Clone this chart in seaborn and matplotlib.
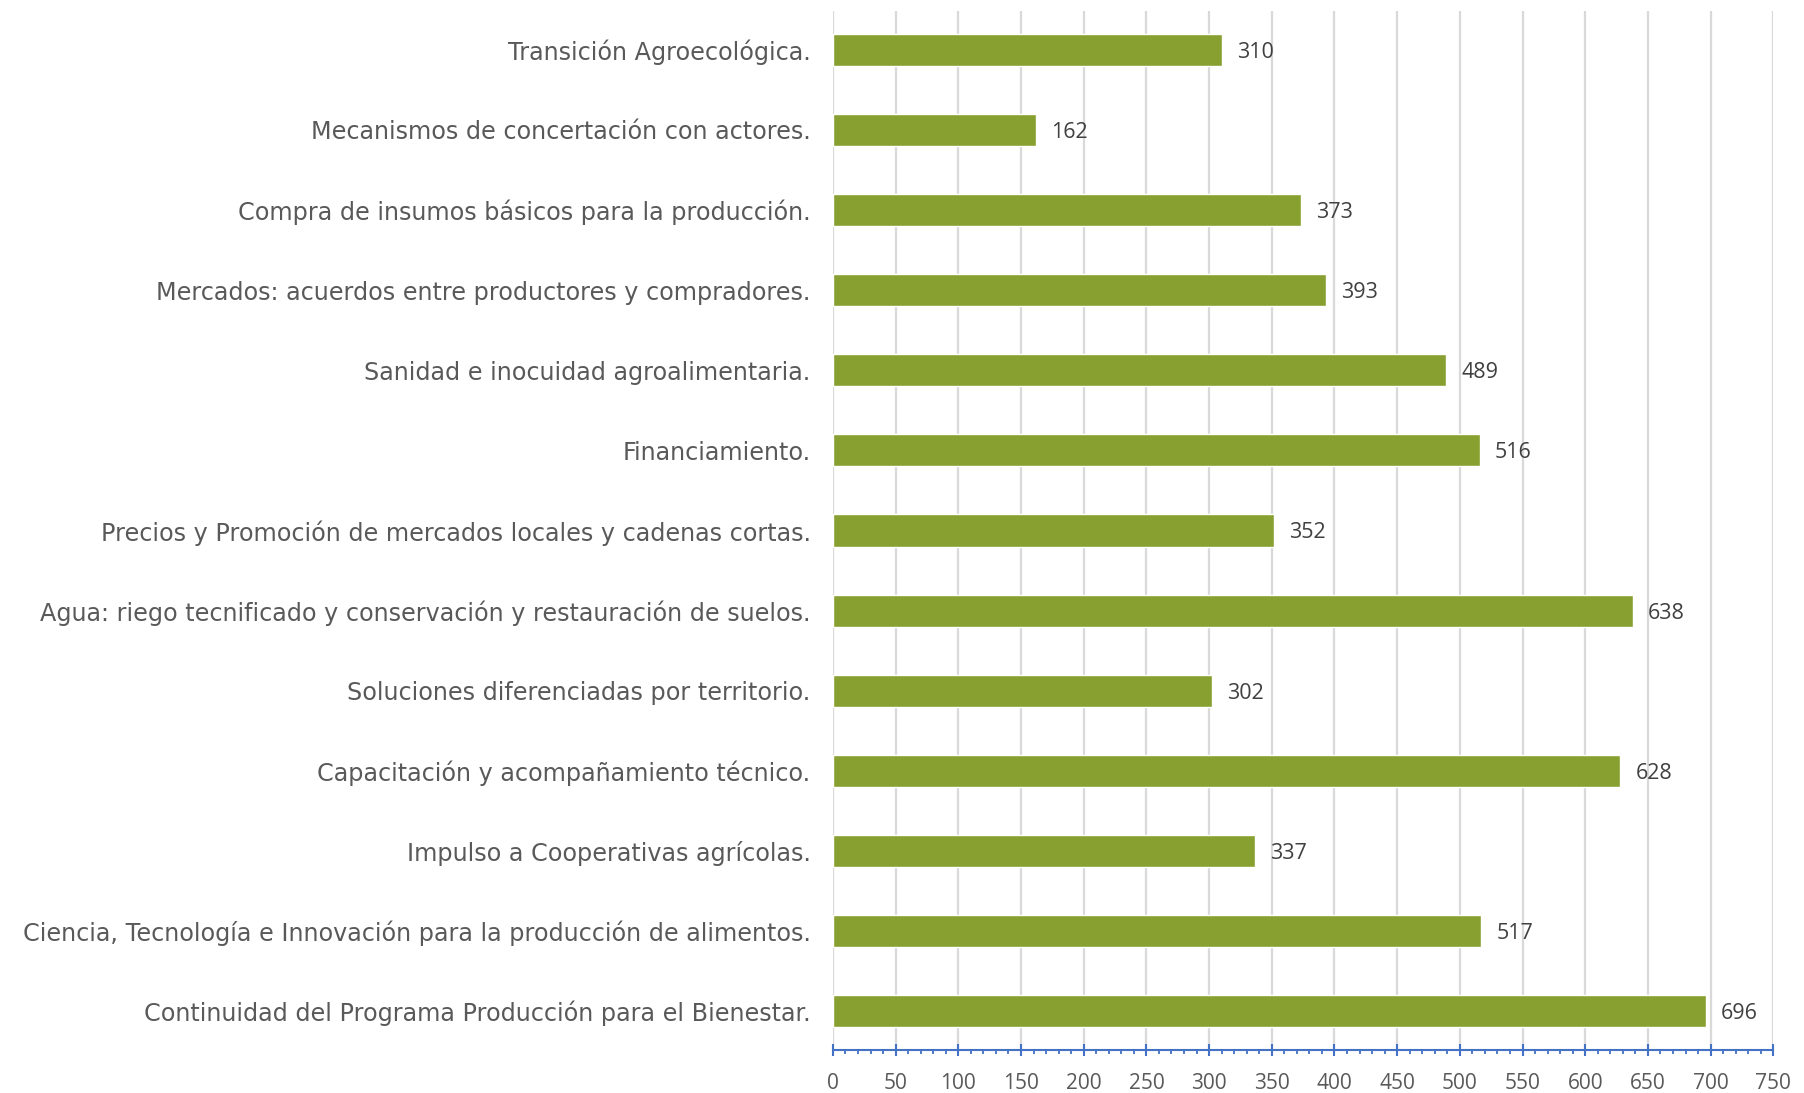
import matplotlib
matplotlib.use("Agg")
import matplotlib.pyplot as plt
import seaborn as sns
import pandas as pd
from matplotlib.ticker import MultipleLocator

categorias = [
    "Transición Agroecológica.",
    "Mecanismos de concertación con actores.",
    "Compra de insumos básicos para la producción.",
    "Mercados: acuerdos entre productores y compradores.",
    "Sanidad e inocuidad agroalimentaria.",
    "Financiamiento.",
    "Precios y Promoción de mercados locales y cadenas cortas.",
    "Agua: riego tecnificado y conservación y restauración de suelos.",
    "Soluciones diferenciadas por territorio.",
    "Capacitación y acompañamiento técnico.",
    "Impulso a Cooperativas agrícolas.",
    "Ciencia, Tecnología e Innovación para la producción de alimentos.",
    "Continuidad del Programa Producción para el Bienestar.",
]
valores = [310, 162, 373, 393, 489, 516, 352, 638, 302, 628, 337, 517, 696]

df = pd.DataFrame({"categoria": categorias, "valor": valores})

sns.set_style("white")
plt.rcParams['font.family'] = ['Open Sans', 'DejaVu Sans']

fig = plt.figure(figsize=(18.04, 10.93), dpi=100)
ax = fig.add_axes([0.4617, 0.0393, 0.5213, 0.9507])

sns.barplot(data=df, x="valor", y="categoria", orient="h", color="#87A030",
            width=0.4, saturation=1, ax=ax, zorder=3)

for i, v in enumerate(valores):
    ax.text(v + 12, i + 0.03, str(v), va="center", ha="left", fontsize=15.5, color="#404040")

ax.set_xlim(0, 750)
ax.set_ylim(12.485, -0.485)
ax.xaxis.set_major_locator(MultipleLocator(50))
ax.xaxis.set_minor_locator(MultipleLocator(10))
ax.grid(axis="x", which="major", color="#D9D9D9", linewidth=1.6, zorder=0)
ax.set_axisbelow(True)

for s in ["top", "right", "left"]:
    ax.spines[s].set_visible(False)
ax.spines["bottom"].set_color("#4472C4")
ax.spines["bottom"].set_linewidth(1.5)

ax.tick_params(axis="x", which="both", bottom=True)
ax.tick_params(axis="x", which="major", direction="inout", length=9, width=1.5,
               color="#4472C4", labelsize=15, labelcolor="#595959", pad=12)
ax.tick_params(axis="x", which="minor", direction="out", length=3, width=1.3,
               color="#4472C4")
ax.tick_params(axis="y", length=0, pad=16)
for lab in ax.get_yticklabels():
    lab.set_fontfamily(["DejaVu Sans"])
    lab.set_fontsize(17.2)
    lab.set_color("#595959")
ax.set_xlabel("")
ax.set_ylabel("")

fig.savefig("out.png", dpi=100)
